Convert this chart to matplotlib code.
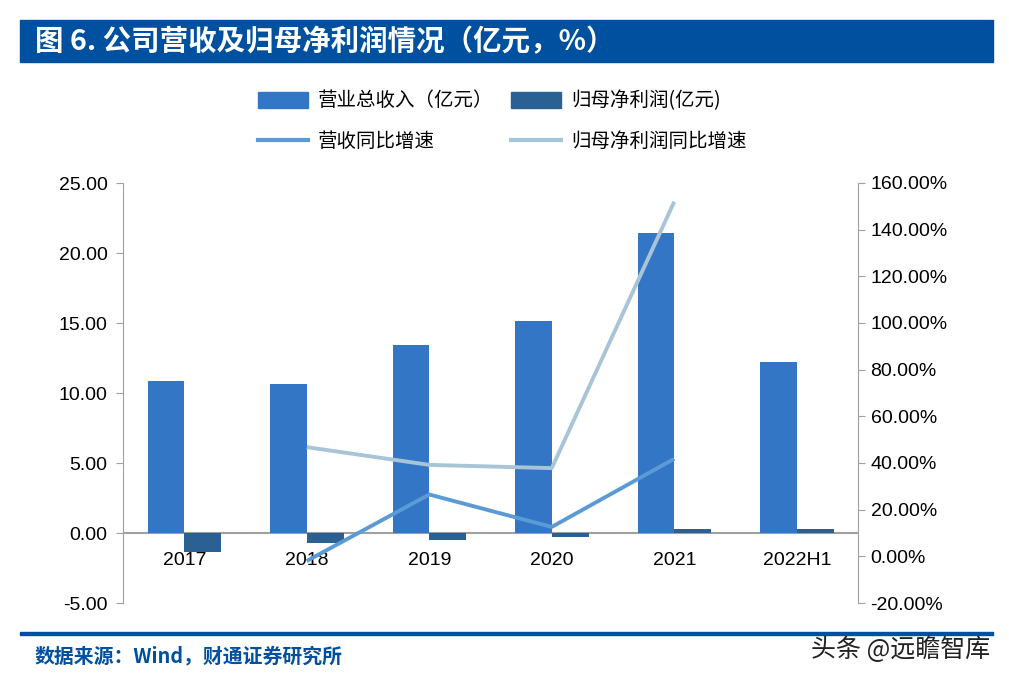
import numpy as np
import matplotlib.pyplot as plt
from matplotlib.patches import Rectangle, Patch
from matplotlib.lines import Line2D

plt.rcParams['font.family'] = ['Noto Sans CJK SC', 'DejaVu Sans']

# 数据
years = ['2017', '2018', '2019', '2020', '2021', '2022H1']
revenue = [10.86, 10.64, 13.43, 15.14, 21.43, 12.21]          # 营业总收入（亿元）
net_profit = [-1.36, -0.71, -0.50, -0.30, 0.28, 0.30]        # 归母净利润(亿元)
rev_growth_years = ['2018', '2019', '2020', '2021']
rev_growth = [-2.0, 26.5, 12.6, 41.8]                        # 营收同比增速 %
np_growth_years = ['2018', '2019', '2020', '2021']
np_growth = [46.8, 39.2, 37.8, 152.0]                        # 归母净利润同比增速 %

c_rev = '#3476C6'
c_np = '#2B6093'
c_rev_g = '#5B9BD5'
c_np_g = '#A8C5D8'
c_blue = '#0050A0'

fig = plt.figure(figsize=(10.09, 6.8), dpi=100)

# 标题栏
fig.patches.append(Rectangle((20 / 1009, 1 - 62 / 680), 973 / 1009, 42 / 680,
                             transform=fig.transFigure, color=c_blue, zorder=0))
fig.text(35 / 1009, 1 - 42 / 680, '图 6. 公司营收及归母净利润情况（亿元，%）',
         color='white', fontsize=20.5, fontweight='bold', va='center', ha='left')

# 底部线和来源
fig.patches.append(Rectangle((20 / 1009, 1 - 635 / 680), 973 / 1009, 3 / 680,
                             transform=fig.transFigure, color=c_blue, zorder=0))
fig.text(35 / 1009, 1 - 656 / 680, '数据来源：Wind，财通证券研究所',
         color=c_blue, fontsize=14.3, fontweight='bold', va='center', ha='left')
fig.text(990 / 1009, 1 - 650 / 680, '头条 @远瞻智库',
         color='#222222', fontsize=18, va='center', ha='right')

ax = fig.add_axes([123 / 1009, 1 - 603 / 680, 735 / 1009, 420 / 680])
x = np.arange(len(years))
w = 0.3
ax.bar(x - w / 2, revenue, width=w, color=c_rev, zorder=2)
ax.bar(x + w / 2, net_profit, width=w, color=c_np, zorder=2)
ax.set_xlim(-0.5, len(years) - 0.5)
ax.set_ylim(-5, 25)
ax.set_yticks(np.arange(-5, 26, 5))
ax.set_yticklabels([f'{v:.2f}' for v in np.arange(-5, 26, 5)])
ax.axhline(0, color='#A0A0A0', lw=1.5, zorder=1)
for s in ['top', 'bottom', 'right']:
    ax.spines[s].set_visible(False)
ax.spines['left'].set_color('#A0A0A0')
ax.tick_params(axis='y', length=5, color='#A0A0A0', labelsize=14, pad=6)
ax.set_xticks([])
for xi, lab in zip(x, years):
    ax.text(xi, -1.35, lab, ha='center', va='top', fontsize=14, zorder=4,
            family=['Liberation Sans', 'DejaVu Sans'])
for lab in ax.get_yticklabels():
    lab.set_family(['Liberation Sans', 'DejaVu Sans'])

ax2 = ax.twinx()
ax2.set_ylim(-20, 160)
ax2.set_yticks(np.arange(-20, 161, 20))
ax2.set_yticklabels([f'{v:.2f}%' for v in np.arange(-20, 161, 20)])
for s in ['top', 'bottom', 'left']:
    ax2.spines[s].set_visible(False)
ax2.spines['right'].set_color('#A0A0A0')
ax2.tick_params(axis='y', length=5, color='#A0A0A0', labelsize=14, pad=4)
for lab in ax2.get_yticklabels():
    lab.set_family(['Liberation Sans', 'DejaVu Sans'])

xr = [years.index(y) for y in rev_growth_years]
xn = [years.index(y) for y in np_growth_years]
ax2.plot(xr, rev_growth, color=c_rev_g, lw=2.8, zorder=3, solid_capstyle='butt')
ax2.plot(xn, np_growth, color=c_np_g, lw=2.8, zorder=3, solid_capstyle='butt')

# 图例（按列填充：第一列为营收，第二列为净利润）
handles = [Patch(color=c_rev), Line2D([], [], color=c_rev_g, lw=3),
           Patch(color=c_np), Line2D([], [], color=c_np_g, lw=3)]
labels = ['营业总收入（亿元）', '营收同比增速', '归母净利润(亿元)', '归母净利润同比增速']
leg = fig.legend(handles, labels, ncol=2,
                 loc='upper left', bbox_to_anchor=(240 / 1009, 1 - 73 / 680),
                 frameon=False, fontsize=14, handlelength=2.6, handleheight=0.9,
                 columnspacing=0.9, handletextpad=0.5, labelspacing=1.0)

fig.savefig('out.png', dpi=100, facecolor='white')
